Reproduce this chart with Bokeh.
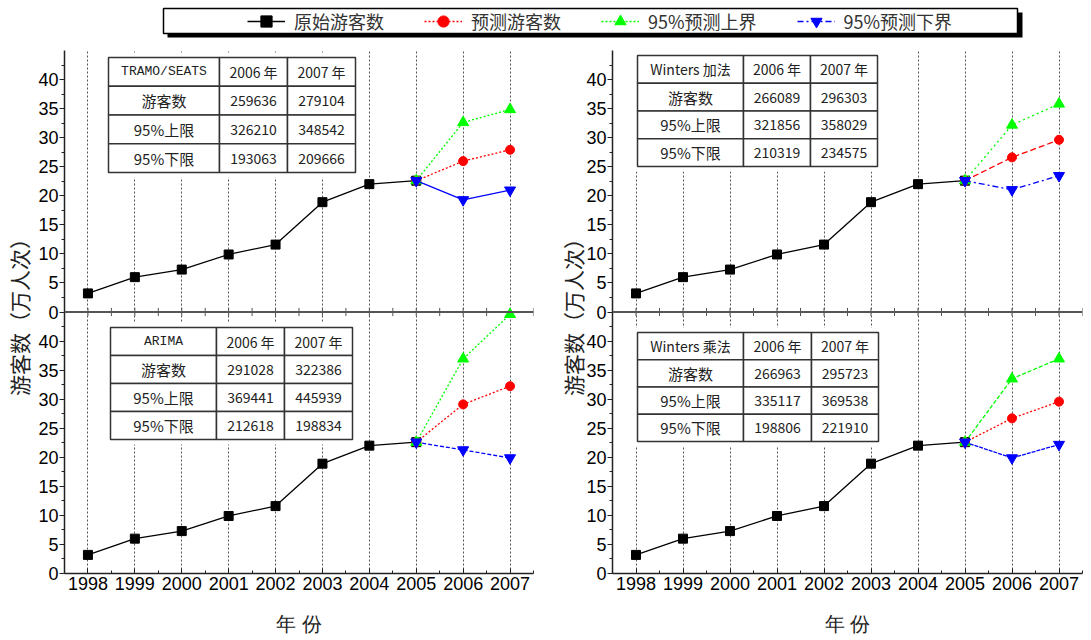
from bokeh.plotting import figure
from bokeh.models import Range1d, FixedTicker, Span, Legend, LegendItem, ColumnDataSource
from bokeh.layouts import column, row
from bokeh.embed import file_html
from bokeh.resources import INLINE
from bokeh.core.properties import value

# ---------------- data ----------------
years = [1998, 1999, 2000, 2001, 2002, 2003, 2004, 2005, 2006, 2007]
hist_years = [1998, 1999, 2000, 2001, 2002, 2003, 2004, 2005]
hist_visitors = [3.2, 6.0, 7.3, 9.9, 11.6, 18.9, 22.0, 22.6]   # 万人次
forecast_years = [2006, 2007]
y_ticks = [0, 5, 10, 15, 20, 25, 30, 35, 40]

table_year_labels = ["2006 年", "2007 年"]
table_row_labels = ["游客数", "95%上限", "95%下限"]

methods = ["TRAMO/SEATS", "ARIMA", "Winters 加法", "Winters 乘法"]
tramo_fc = [259636, 279104]
tramo_up = [326210, 348542]
tramo_lo = [193063, 209666]
arima_fc = [291028, 322386]
arima_up = [369441, 445939]
arima_lo = [212618, 198834]
wadd_fc = [266089, 296303]
wadd_up = [321856, 358029]
wadd_lo = [210319, 234575]
wmul_fc = [266963, 295723]
wmul_up = [335117, 369538]
wmul_lo = [198806, 221910]

legend_labels = ["原始游客数", "预测游客数", "95%预测上界", "95%预测下界"]
y_title = "游客数（万人次）"
x_title = "年 份"

# ---------------- layout constants (page pixels, page starts at 0,0) ----------------
LEG_H = 42
FT = 50            # frame top (page y)
FH = 523           # frame height (two stacked panels)
FB = FT + FH
COL_H = 598
PANEL = 45         # each panel spans 0..45
X0, X1 = 1997.5, 2007.5
CJK = "Noto Sans CJK SC"
SANS = "Liberation Sans"
MONO = "Liberation Mono"


def draw_table(p, px2x, py2y, box, method, fc, up, lo):
    L, R, T, B, c1, c2 = box
    pad = 5
    p.quad(left=[px2x(L - pad)], right=[px2x(R + pad)], top=[py2y(T - pad)],
           bottom=[py2y(B + pad)], fill_color="white", line_color=None)
    cols = [(L, c1), (c1, c2), (c2, R)]
    rows = [[method] + table_year_labels,
            [table_row_labels[0], str(fc[0]), str(fc[1])],
            [table_row_labels[1], str(up[0]), str(up[1])],
            [table_row_labels[2], str(lo[0]), str(lo[1])]]
    ql, qr, qt, qb = [], [], [], []
    groups = {}
    for r in range(4):
        yt = T + (B - T) * r / 4
        yb = T + (B - T) * (r + 1) / 4
        for c, (xl, xr) in enumerate(cols):
            ql.append(px2x(xl)); qr.append(px2x(xr))
            qt.append(py2y(yt)); qb.append(py2y(yb))
            txt = rows[r][c]
            if r == 0 and c == 0 and txt.isascii():
                key = (MONO, "13px")
            elif r > 0 and c == 0:
                key = (CJK, "15px")
            else:
                key = (CJK, "14px")
            g = groups.setdefault(key, {"x": [], "y": [], "t": []})
            g["x"].append(px2x((xl + xr) / 2))
            g["y"].append(py2y((yt + yb) / 2))
            g["t"].append(txt)
    p.quad(left=ql, right=qr, top=qt, bottom=qb, fill_color="white",
           line_color="#333333", line_width=1.5)
    for (font, size), g in groups.items():
        src = ColumnDataSource(dict(x=g["x"], y=g["y"], t=g["t"]))
        p.text(x="x", y="y", text="t", source=src, text_align="center",
               text_baseline="middle", text_font=value(font),
               text_font_size=size, text_color="#222222")


def draw_series(p, rng, fc, up, lo, dashes):
    kw = {"y_range_name": rng}
    p.line(hist_years, hist_visitors, line_color="black", line_width=1.3, **kw)
    p.scatter(hist_years, hist_visitors, marker="square", size=9, color="black", **kw)
    fx = [hist_years[-1]] + forecast_years
    specs = [(fc, "#ff0000", "circle", dashes[0], 9),
             (up, "#00ff00", "triangle", dashes[1], 11),
             (lo, "#0000ff", "inverted_triangle", dashes[2], 11)]
    for vals, color, marker, dash, size in specs:
        ys = [hist_visitors[-1]] + [v / 10000 for v in vals]
        p.line(fx, ys, line_color=color, line_dash=dash, line_width=1.3, **kw)
        p.scatter(fx, ys, marker=marker, size=size, color=color, **kw)


def make_column(page_x, width, fl, fw, ylab_standoff, top, bottom):
    bl = fl - page_x
    p = figure(width=width, height=COL_H, x_range=Range1d(X0, X1),
               y_range=Range1d(0, 2 * PANEL), output_backend="svg",
               toolbar_location=None, min_border_left=bl,
               min_border_right=width - bl - fw, min_border_top=FT - LEG_H,
               min_border_bottom=COL_H - (FT - LEG_H) - FH,
               outline_line_color=None, background_fill_color="white",
               border_fill_color="white")
    p.extra_y_ranges = {"top": Range1d(-PANEL, PANEL)}

    def px2x(px):
        return X0 + (px - fl) / fw * (X1 - X0)

    def py2y(py):
        return 2 * PANEL * (FB - py) / FH

    # axes
    xa = p.xaxis[0]
    xa.ticker = FixedTicker(ticks=years, minor_ticks=[X0 + i for i in range(11)])
    xa.major_tick_in = 5
    xa.major_tick_out = 0
    xa.minor_tick_in = 3
    xa.minor_tick_out = 0
    xa.axis_line_color = "#222222"
    xa.axis_line_width = 1.5
    xa.major_tick_line_color = "#222222"
    xa.minor_tick_line_color = "#222222"
    xa.major_label_text_font = SANS
    xa.major_label_text_font_size = "18px"
    xa.major_label_text_color = "black"
    xa.major_label_standoff = 3
    xa.axis_label = x_title
    xa.axis_label_text_font = SANS
    xa.axis_label_text_font_size = "20px"
    xa.axis_label_text_font_style = "normal"
    xa.axis_label_text_color = "#222222"
    xa.axis_label_standoff = 20

    ya = p.yaxis[0]
    ya.ticker = FixedTicker(ticks=y_ticks + [PANEL + t for t in y_ticks],
                            minor_ticks=[2.5 + 5 * k for k in range(18)])
    ya.major_label_overrides = {PANEL + t: str(t) for t in y_ticks}
    ya.major_tick_in = 0
    ya.major_tick_out = 5
    ya.minor_tick_in = 0
    ya.minor_tick_out = 3
    ya.axis_line_color = "#222222"
    ya.axis_line_width = 1.5
    ya.major_tick_line_color = "#222222"
    ya.minor_tick_line_color = "#222222"
    ya.major_label_text_font = SANS
    ya.major_label_text_font_size = "18px"
    ya.major_label_text_color = "black"
    ya.major_label_standoff = 1
    ya.axis_label = y_title
    ya.axis_label_text_font = CJK
    ya.axis_label_text_font_size = "21px"
    ya.axis_label_text_font_style = "normal"
    ya.axis_label_text_color = "#222222"
    ya.axis_label_standoff = ylab_standoff

    p.xgrid.ticker = FixedTicker(ticks=years)
    p.xgrid.grid_line_color = "#555555"
    p.xgrid.grid_line_dash = "2 2"
    p.xgrid.grid_line_width = 1
    p.ygrid.visible = False

    # divider between the stacked panels (x-axis of the upper panel)
    p.add_layout(Span(location=PANEL, dimension="width", line_color="#555555",
                      line_width=2))
    tx = [X0 + 0.5 * i for i in range(21)]
    p.segment(x0=tx, x1=tx, y0=[PANEL - 0.7] * len(tx), y1=[PANEL + 0.7] * len(tx),
              line_color="#555555", line_width=1)

    # panels
    for rng, spec in (("top", top), ("default", bottom)):
        box, method, fc, up, lo, dashes = spec
        draw_table(p, px2x, py2y, box, method, fc, up, lo)
        draw_series(p, rng, fc, up, lo, dashes)
    return p


left = make_column(
    0, 546, 64, 469, 1,
    ((108, 355, 57, 172, 219, 287), methods[0], tramo_fc, tramo_up, tramo_lo,
     ("2 2", "2 2", "solid")),
    ((110, 352, 327, 439, 216, 284), methods[1], arima_fc, arima_up, arima_lo,
     ("2 2", "2 2", "4 2")))

right = make_column(
    546, 545, 612, 470, -5,
    ((637, 877, 55, 166, 743, 810), methods[2], wadd_fc, wadd_up, wadd_lo,
     ("6 3", "2 3", "6 3 2 3")),
    ((637, 878, 332, 441, 743, 811), methods[3], wmul_fc, wmul_up, wmul_lo,
     ("2 2", "4 2", "4 1")))

# ---------------- legend strip ----------------
lf = figure(width=1091, height=LEG_H, x_range=Range1d(0, 1091),
            y_range=Range1d(LEG_H, 0), x_axis_location=None, y_axis_location=None,
            min_border=0, toolbar_location=None, output_backend="svg",
            outline_line_color=None)
lf.grid.visible = False
lf.quad(left=[167], right=[1022], top=[12], bottom=[37], fill_color="black",
        line_color=None)
lf.quad(left=[163], right=[1017], top=[8], bottom=[33], fill_color="white",
        line_color="black", line_width=1.5)

# legend sample renderers (kept outside the visible strip)
offscreen = ColumnDataSource(dict(x=[-1000, -999], y=[-1000, -1000]))
leg_specs = [("black", "square", "solid", 11),
             ("#ff0000", "circle", "2 2", 12),
             ("#00ff00", "triangle", "2 2", 13),
             ("#0000ff", "inverted_triangle", "6 3 2 3", 13)]
items = []
for lab, (color, marker, dash, size) in zip(legend_labels, leg_specs):
    rl = lf.line("x", "y", source=offscreen, line_color=color, line_dash=dash,
                 line_width=1.3)
    rs = lf.scatter("x", "y", source=offscreen, marker=marker, size=size, color=color)
    items.append(LegendItem(label=value(lab), renderers=[rl, rs]))

legend = Legend(items=items, location=(247, 7), orientation="horizontal",
                spacing=40, label_standoff=9, glyph_width=38, glyph_height=28,
                padding=0, margin=0, border_line_color=None,
                background_fill_alpha=0, label_text_font=CJK,
                label_text_font_size="18px", label_text_color="#333333")
lf.add_layout(legend)

layout = column(lf, row(left, right))

open("out.html", "w").write(file_html(layout, INLINE))
